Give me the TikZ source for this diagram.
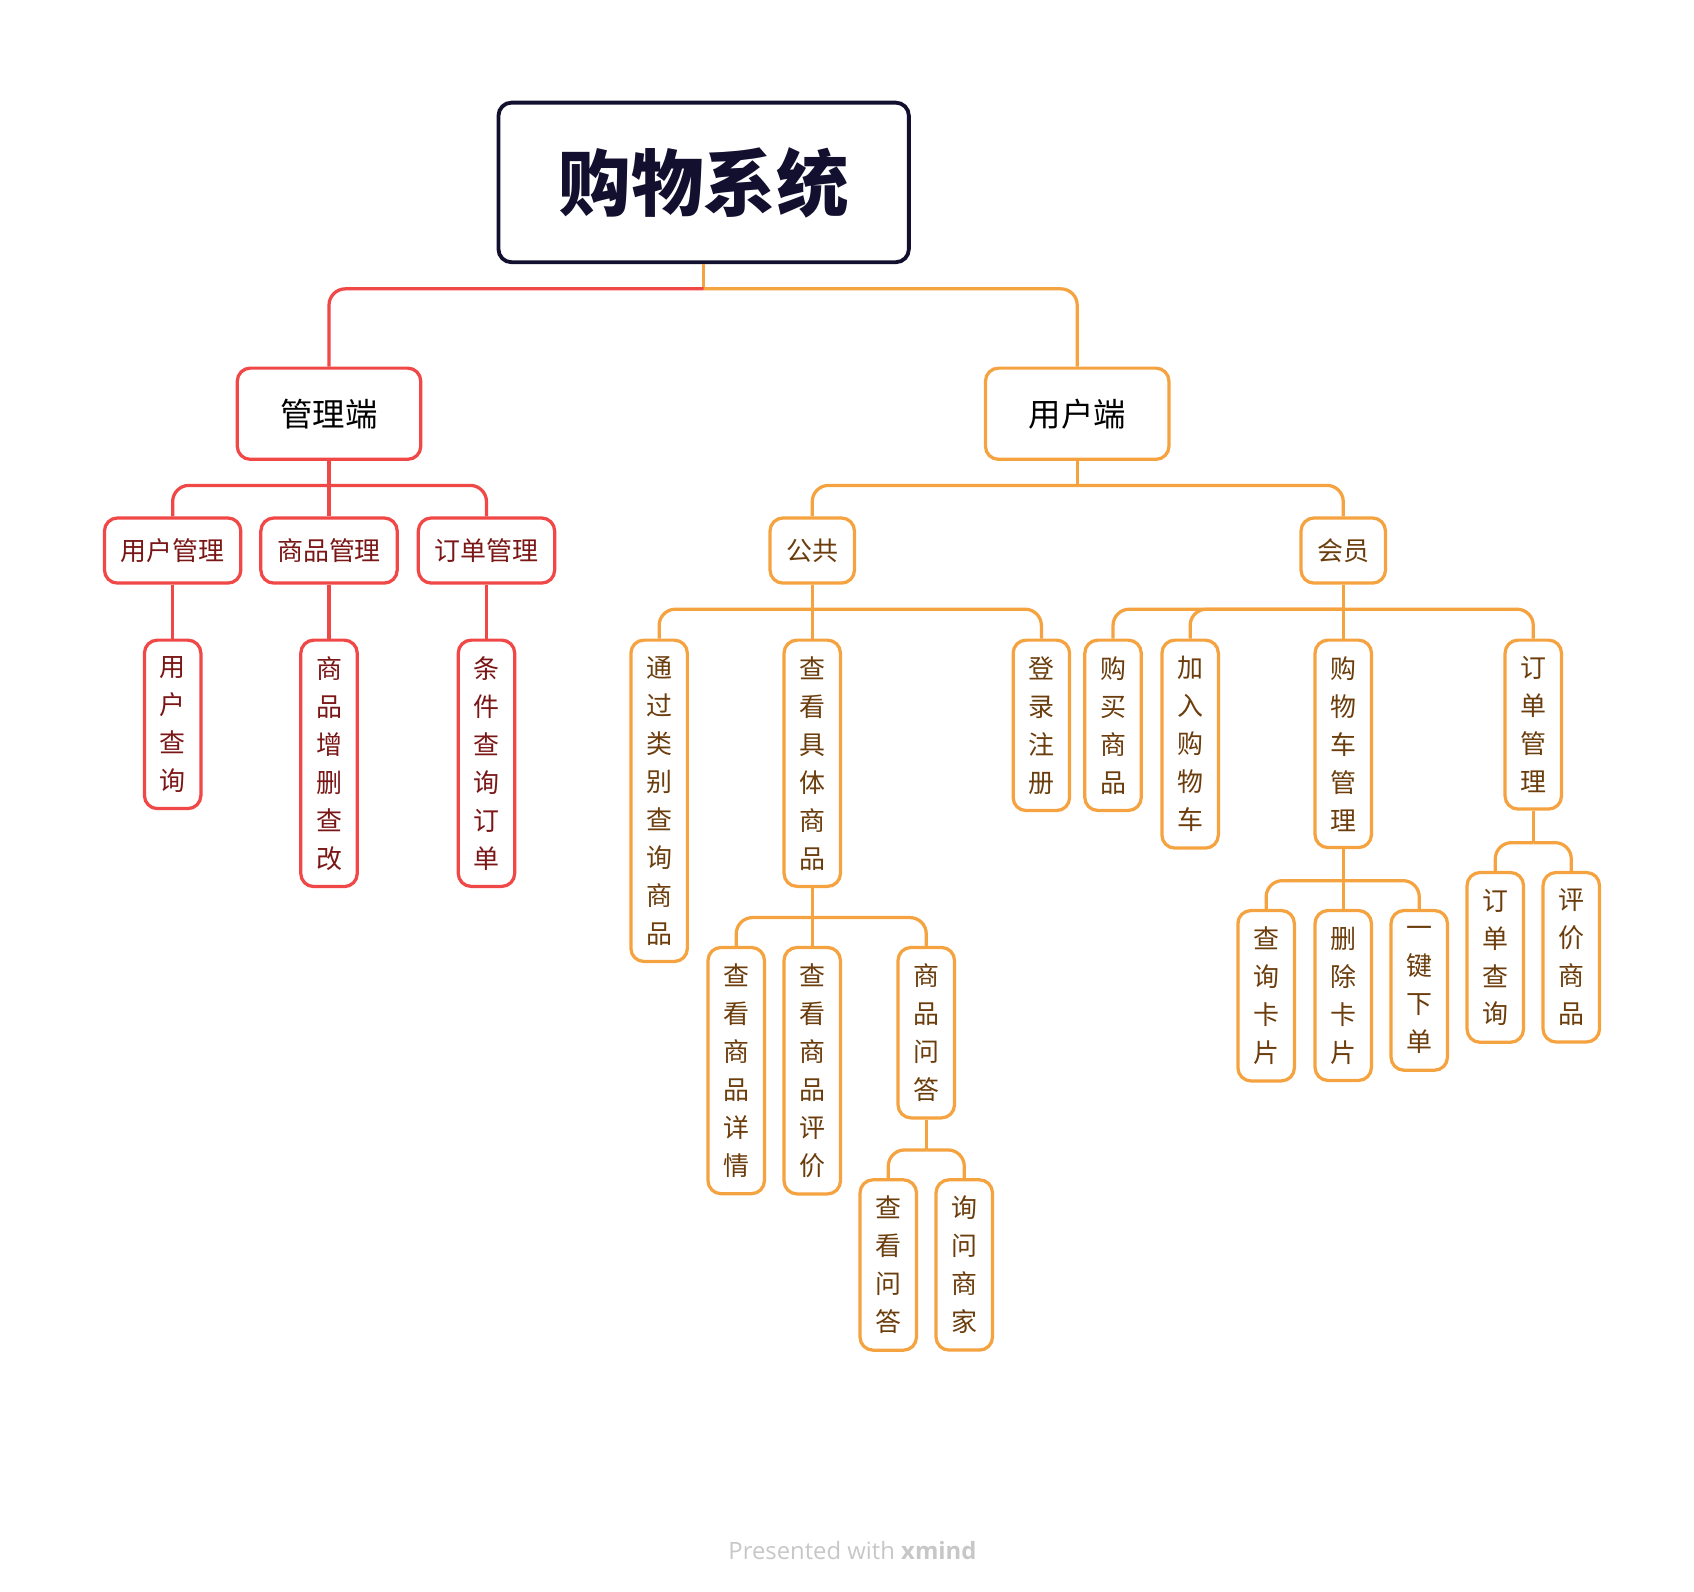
\documentclass[tikz,border=0pt]{standalone}
\usepackage{fontspec}
\setmainfont{Noto Sans CJK SC}
\setsansfont{Open Sans}
\usetikzlibrary{positioning}
\definecolor{navy}{HTML}{12102E}
\definecolor{redline}{HTML}{F04747}
\definecolor{orline}{HTML}{F4A340}
\definecolor{redtext}{HTML}{7A1616}
\definecolor{ortext}{HTML}{6B3C0C}
\newcommand{\link}[4]{% parent, child, bus, colour
    \draw [edge, #4] (#1.south) -- (#1.south |- #3);
    \draw [edge, #4] (#1.south |- #3) -| (#2.north);}

\begin{document}
\begin{tikzpicture}[
    x=0.02cm, y=-0.02cm,
    % Styles
    root/.style={% main topic
        rectangle, rounded corners=0.24cm, draw=navy, line width=2pt,
        minimum width=7.56cm, minimum height=2.94cm,
        font=\fontsize{38pt}{40pt}\selectfont\bfseries, text=navy,
        },
    branch/.style={% second level
        rectangle, rounded corners=0.24cm, line width=1.7pt,
        minimum width=3.38cm, minimum height=1.68cm,
        font=\fontsize{17pt}{20pt}\selectfont,
        },
    topic/.style={% third level, horizontal
        rectangle, rounded corners=0.24cm, line width=1.7pt,
        minimum height=1.2cm, inner xsep=0.3cm,
        font=\fontsize{13.6pt}{16pt}\selectfont,
        },
    leaf/.style={% vertical text boxes
        rectangle, rounded corners=0.24cm, line width=1.7pt, anchor=north,
        minimum width=1.04cm, inner ysep=0.3cm, align=center,
        font=\fontsize{13.6pt}{19.9pt}\selectfont,
        },
    R/.style={draw=redline, text=redtext},
    O/.style={draw=orline, text=ortext},
    edge/.style={line width=1.7pt, rounded corners=0.3cm},
    ]
    \useasboundingbox (0,0) rectangle (1560,1466);

    % bus heights
    \coordinate (b0) at (0,266);
    \coordinate (b1) at (0,447);
    \coordinate (b2) at (0,561);
    \coordinate (b3) at (0,845);
    \coordinate (b4) at (0,1059);
    \coordinate (b5) at (0,811);
    \coordinate (b6) at (0,776);

    % Main topic
    \node [root] (shop) at (648,168) {购物系统};

    % Branches
    \node [branch, R, text=black] (admin) at (303,381) {管理端};
    \node [branch, O, text=black] (client) at (992,381) {用户端};

    % Admin side
    \node [topic, R] (uman) at (159,507) {用户管理};
    \node [topic, R] (gman) at (303,507) {商品管理};
    \node [topic, R] (oman) at (448,507) {订单管理};
    \node [leaf, R] (uq) at (159,588) {用\\户\\查\\询};
    \node [leaf, R] (gcrud) at (303,588) {商\\品\\增\\删\\查\\改};
    \node [leaf, R] (oq) at (448,588) {条\\件\\查\\询\\订\\单};

    % Client side
    \node [topic, O] (pub) at (748,507) {公共};
    \node [topic, O] (vip) at (1237,507) {会员};
    \node [leaf, O] (cat) at (607,588) {通\\过\\类\\别\\查\\询\\商\\品};
    \node [leaf, O] (view) at (748,588) {查\\看\\具\\体\\商\\品};
    \node [leaf, O] (login) at (959,588) {登\\录\\注\\册};
    \node [leaf, O] (detail) at (678,871) {查\\看\\商\\品\\详\\情};
    \node [leaf, O] (review) at (748,871) {查\\看\\商\\品\\评\\价};
    \node [leaf, O] (qa) at (853,871) {商\\品\\问\\答};
    \node [leaf, O] (qaview) at (818,1085) {查\\看\\问\\答};
    \node [leaf, O] (ask) at (888,1085) {询\\问\\商\\家};
    \node [leaf, O] (buy) at (1025,588) {购\\买\\商\\品};
    \node [leaf, O] (add) at (1096,588) {加\\入\\购\\物\\车};
    \node [leaf, O] (cart) at (1237,588) {购\\物\\车\\管\\理};
    \node [leaf, O] (order) at (1412,588) {订\\单\\管\\理};
    \node [leaf, O] (cq) at (1166,837) {查\\询\\卡\\片};
    \node [leaf, O] (cdel) at (1237,837) {删\\除\\卡\\片};
    \node [leaf, O] (cbuy) at (1307,837) {一\\键\\下\\单};
    \node [leaf, O] (oqv) at (1377,802) {订\\单\\查\\询};
    \node [leaf, O] (orev) at (1447,802) {评\\价\\商\\品};

    % Footer
    \node [font=\sffamily\fontsize{12.5pt}{14pt}\selectfont, text=black!22] (foot) at (785,1428) {Presented with \textbf{xmind}};

    % Connectors
    \draw [edge, orline] (shop.south) -- (shop.south |- b0);
    \draw [edge, orline] (shop.south |- b0) -| (client.north);
    \draw [edge, redline] (shop.south |- b0) -| (admin.north);
    \foreach \c in {uman, gman, oman} {\link{admin}{\c}{b1}{redline}}
    \link{uman}{uq}{b2}{redline}
    \link{gman}{gcrud}{b2}{redline}
    \link{oman}{oq}{b2}{redline}
    \foreach \c in {pub, vip} {\link{client}{\c}{b1}{orline}}
    \foreach \c in {cat, view, login} {\link{pub}{\c}{b2}{orline}}
    \foreach \c in {detail, review, qa} {\link{view}{\c}{b3}{orline}}
    \foreach \c in {qaview, ask} {\link{qa}{\c}{b4}{orline}}
    \foreach \c in {buy, add, cart, order} {\link{vip}{\c}{b2}{orline}}
    \foreach \c in {cq, cdel, cbuy} {\link{cart}{\c}{b5}{orline}}
    \foreach \c in {oqv, orev} {\link{order}{\c}{b6}{orline}}
\end{tikzpicture}
\end{document}
